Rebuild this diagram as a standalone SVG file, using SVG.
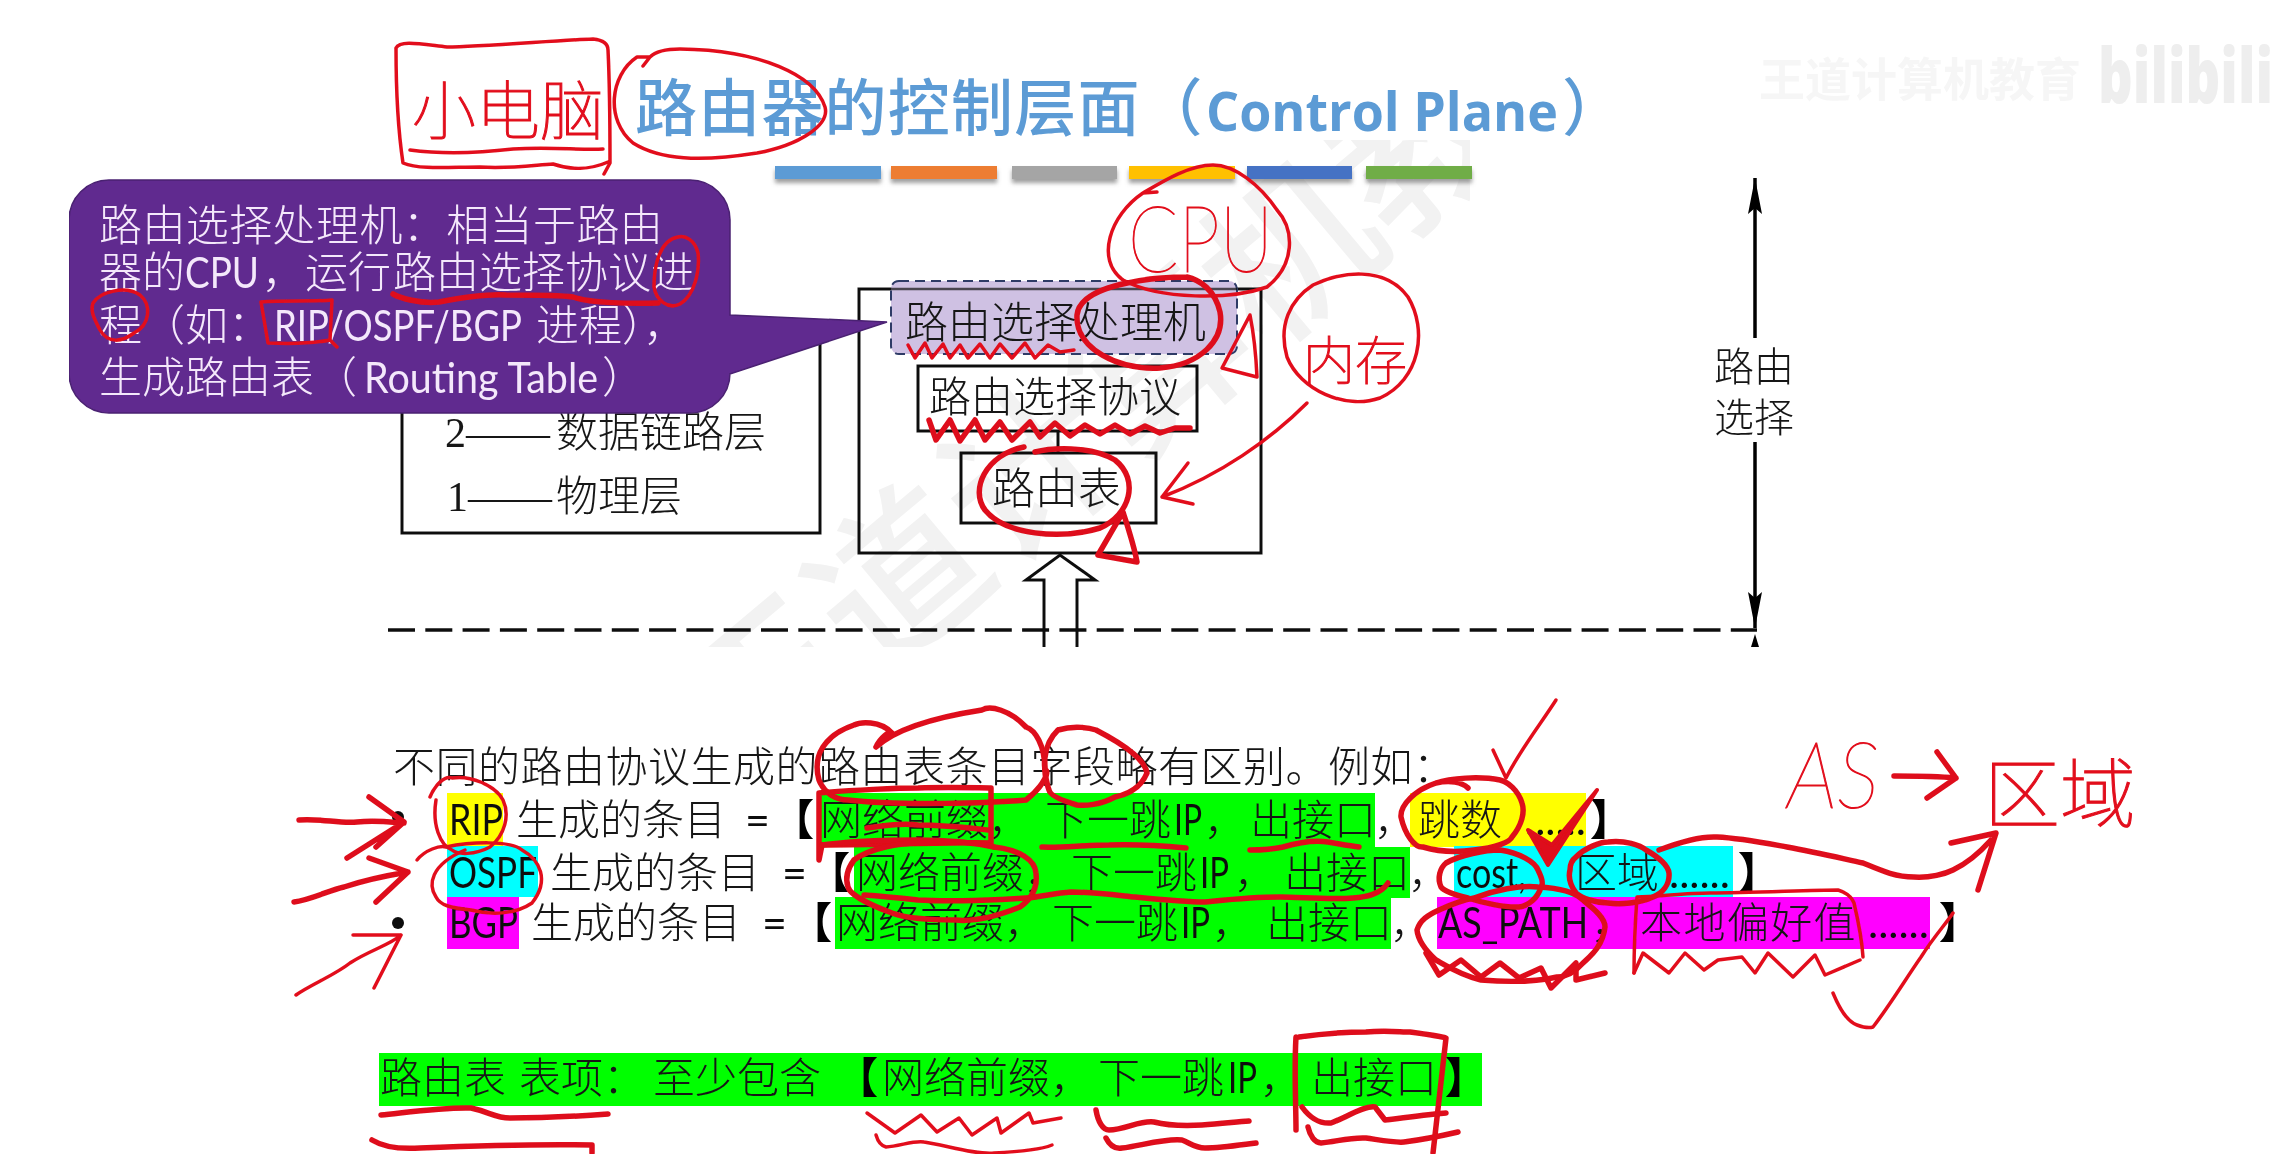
<svg xmlns="http://www.w3.org/2000/svg" width="2289" height="1158" viewBox="0 0 2289 1158">
<defs>
<style>
text{font-family:"Lato","Noto Sans CJK SC",sans-serif;white-space:pre}
.cn{font-family:"Noto Sans CJK SC",sans-serif;font-weight:300;font-size:42px;fill:#161616}
.la{font-family:"Lato","Noto Sans CJK SC",sans-serif;font-weight:400;font-size:43px;fill:#111}
.br{font-family:"Noto Sans CJK SC",sans-serif;font-weight:900;font-size:42px;fill:#000}
.co{font-family:"Noto Sans CJK SC",sans-serif;font-weight:300;font-size:43px;fill:#f4e8fb}
.cl{font-family:"Lato",sans-serif;font-weight:400;font-size:43px;fill:#f4e8fb}
.box{fill:none;stroke:#111;stroke-width:3}
.ink{fill:none;stroke:#e2101c;stroke-width:3.5;stroke-linecap:round;stroke-linejoin:round}
.ink2{fill:none;stroke:#de0f1a;stroke-width:5.5;stroke-linecap:round;stroke-linejoin:round}
.hw{font-family:"Noto Sans CJK SC",sans-serif;font-weight:100;fill:#e2101c;stroke:#e2101c;stroke-width:1}
.ln{fill:none;stroke:#111;stroke-width:3}
.bar{filter:url(#sh)}
</style>
<filter id="soft" x="0" y="0" width="100%" height="100%"><feGaussianBlur stdDeviation="0.6"/></filter>
<filter id="sh" x="-5%" y="-40%" width="110%" height="220%"><feDropShadow dx="0" dy="4" stdDeviation="2" flood-color="#777" flood-opacity=".7"/></filter>
<clipPath id="wm"><rect x="0" y="140" width="1470" height="507"/></clipPath>
<marker id="ah" viewBox="0 0 36 14" refX="36" refY="7" markerWidth="36" markerHeight="14" markerUnits="userSpaceOnUse" orient="auto"><path d="M36 7L0 0L6 7L0 14Z" fill="#000"/></marker>
</defs>
<rect width="2289" height="1158" fill="#fff"/>
<g filter="url(#soft)">
<g id="watermarks">
<g clip-path="url(#wm)"><text transform="translate(743 791) rotate(-40)" font-size="170" fill="#f2f2f2" style="font-family:'Noto Sans CJK SC',sans-serif;font-weight:500">王道计算机教育</text></g>
<text x="1759" y="96" font-size="46" fill="#f6f6f6" style="font-family:'Noto Sans CJK SC',sans-serif;font-weight:700">王道计算机教育</text>
<text x="2098" y="103" font-size="76" fill="#eeeeee" textLength="175" lengthAdjust="spacingAndGlyphs" style="font-family:'Open Sans',sans-serif;font-weight:800">bilibili</text>
</g>
<g id="title">
<text y="131" fill="#5b9bd5" font-size="62" style="font-family:'Noto Sans CJK SC',sans-serif;font-weight:500"><tspan x="635" letter-spacing="1.2">路由器的控制层面（</tspan><tspan x="1562">）</tspan></text>
<text x="1206" y="131" fill="#5b9bd5" font-size="53" font-weight="700" textLength="352" lengthAdjust="spacingAndGlyphs" style="font-family:'Open Sans',sans-serif">Control Plane</text>
<rect class="bar" x="775" y="166" width="106" height="13" fill="#5b9bd5"/>
<rect class="bar" x="891" y="166" width="106" height="13" fill="#ed7d31"/>
<rect class="bar" x="1012" y="166" width="105" height="13" fill="#a5a5a5"/>
<rect class="bar" x="1129" y="166" width="106" height="13" fill="#ffc000"/>
<rect class="bar" x="1247" y="166" width="105" height="13" fill="#4472c4"/>
<rect class="bar" x="1366" y="166" width="106" height="13" fill="#70ad47"/>
</g>
<g id="layer-box">
<rect class="box" x="402" y="340" width="418" height="193"/>
<text class="cn" y="447"><tspan x="445" style="font-family:'Liberation Serif',serif">2——</tspan><tspan x="556">数据链路层</tspan></text>
<text class="cn" y="511"><tspan x="447" style="font-family:'Liberation Serif',serif">1——</tspan><tspan x="556">物理层</tspan></text>
</g>
<g id="router-box">
<rect class="box" x="859" y="289" width="402" height="264"/>
</g>
<g id="processor">
<rect x="891" y="281" width="346" height="73" rx="8" fill="#cfc1e3" stroke="#2d3a66" stroke-width="2" stroke-dasharray="10 6"/>
<path d="M891 289H1237" stroke="#111" stroke-width="2.5" opacity=".7"/>
<text class="cn" x="905" y="338" style="font-size:43px">路由选择处理机</text>
</g>
<g id="protocol">
<rect class="box" x="918" y="366" width="279" height="65"/>
<text class="cn" x="929" y="412">路由选择协议</text>
</g>
<g id="route-table">
<rect class="box" x="961" y="453" width="195" height="70"/>
<text class="cn" x="992" y="504" style="font-size:43px">路由表</text>
</g>
<g id="connectors">
<path class="ln" d="M1058 431V453"/>
<path class="ln" d="M1044 647V580H1026L1060 555L1095 580H1077V647"/>
<path d="M388 630H1757" fill="none" stroke="#111" stroke-width="3.5" stroke-dasharray="27 10.3"/>
<path d="M1755 338V178" fill="none" stroke="#000" stroke-width="3.5" marker-end="url(#ah)"/>
<path d="M1755 442V628" fill="none" stroke="#000" stroke-width="3.5" marker-end="url(#ah)"/>
<path d="M1755 634L1759 647H1751Z" fill="#000"/>
</g>
<g id="side-label">
<text class="cn" x="1714" y="381" style="font-size:40px">路由</text>
<text class="cn" x="1714" y="432" style="font-size:40px">选择</text>
</g>
<g id="callout">
<path d="M109 180H690A40 40 0 0 1 730 220V315L887 322L730 374V373A40 40 0 0 1 690 413H109A40 40 0 0 1 69 373V220A40 40 0 0 1 109 180Z" fill="#612b8f" stroke="#4a2072" stroke-width="1.5"/>
<text class="co" x="99" y="241" letter-spacing="0.4">路由选择处理机：相当于路由</text>
<text class="co" y="288"><tspan x="99">器的</tspan><tspan x="262">，</tspan><tspan x="305">运行</tspan><tspan x="393">路由选择协议进</tspan></text>
<text class="cl" x="185" y="288" textLength="74" lengthAdjust="spacingAndGlyphs">CPU</text>
<text class="co" y="341"><tspan x="99">程（如：</tspan><tspan x="536">进程），</tspan></text>
<text class="cl" x="274" y="341" textLength="248" lengthAdjust="spacingAndGlyphs">RIP/OSPF/BGP</text>
<text class="co" y="393"><tspan x="99">生成路由表（</tspan><tspan x="602">）</tspan></text>
<text class="cl" x="364" y="393" textLength="234" lengthAdjust="spacingAndGlyphs">Routing Table</text>
</g>
<g id="highlights">
<rect x="447" y="793" width="56" height="54" fill="#ffff00"/>
<rect x="819" y="793" width="556" height="54" fill="#00ff00"/>
<rect x="1410" y="793" width="176" height="54" fill="#ffff00"/>
<rect x="447" y="846" width="91" height="51" fill="#00ffff"/>
<rect x="854" y="847" width="556" height="51" fill="#00ff00"/>
<rect x="1454" y="846" width="279" height="51" fill="#00ffff"/>
<rect x="447" y="897" width="72" height="52" fill="#ff00ff"/>
<rect x="835" y="897" width="556" height="52" fill="#00ff00"/>
<rect x="1437" y="897" width="493" height="52" fill="#ff00ff"/>
<rect x="379" y="1053" width="1103" height="53" fill="#00ff00"/>
</g>
<g id="body-text">
<text class="cn" x="393" y="782" letter-spacing="0.5">不同的路由协议生成的路由表条目字段略有区别。例如：</text>
<circle cx="398" cy="817" r="6" fill="#111"/>
<circle cx="398" cy="923" r="6" fill="#111"/>
<text y="835"><tspan class="cn" x="516">生成的条目</tspan><tspan class="la" x="745">=</tspan><tspan class="br" x="772">【</tspan><tspan class="cn" x="820">网络前缀，</tspan><tspan class="cn" x="1045">下一跳</tspan><tspan class="cn" x="1204">，</tspan><tspan class="cn" x="1250">出接口</tspan><tspan class="cn" x="1374">，</tspan><tspan class="cn" x="1418">跳数</tspan><tspan class="la" x="1525">......</tspan><tspan class="br" x="1590">】</tspan></text>
<text class="la" x="449" y="835" textLength="54" lengthAdjust="spacingAndGlyphs">RIP</text>
<text class="la" x="1174" y="835" textLength="28" lengthAdjust="spacingAndGlyphs">IP</text>
<text y="888"><tspan class="cn" x="550">生成的条目</tspan><tspan class="la" x="782">=</tspan><tspan class="br" x="808">【</tspan><tspan class="cn" x="856">网络前缀，</tspan><tspan class="cn" x="1071">下一跳</tspan><tspan class="cn" x="1234">，</tspan><tspan class="cn" x="1284">出接口</tspan><tspan class="cn" x="1408">，</tspan><tspan class="cn" x="1575">区域</tspan><tspan class="la" x="1669">......</tspan><tspan class="br" x="1738">】</tspan></text>
<text class="la" x="449" y="888" textLength="88" lengthAdjust="spacingAndGlyphs">OSPF</text>
<text class="la" x="1200" y="888" textLength="29" lengthAdjust="spacingAndGlyphs">IP</text>
<text class="la" x="1456" y="888" textLength="70" lengthAdjust="spacingAndGlyphs">cost,</text>
<text y="938"><tspan class="cn" x="531">生成的条目</tspan><tspan class="la" x="762">=</tspan><tspan class="br" x="790">【</tspan><tspan class="cn" x="836">网络前缀，</tspan><tspan class="cn" x="1052">下一跳</tspan><tspan class="cn" x="1212">，</tspan><tspan class="cn" x="1266">出接口</tspan><tspan class="cn" x="1390">，</tspan><tspan class="cn" x="1591">，</tspan><tspan class="cn" x="1640" letter-spacing="1.4">本地偏好值</tspan><tspan class="la" x="1868">......</tspan><tspan class="br" x="1939">】</tspan></text>
<text class="la" x="449" y="938" textLength="69" lengthAdjust="spacingAndGlyphs">BGP</text>
<text class="la" x="1181" y="938" textLength="29" lengthAdjust="spacingAndGlyphs">IP</text>
<text class="la" x="1438" y="938" textLength="150" lengthAdjust="spacingAndGlyphs">AS_PATH</text>
<text y="1093"><tspan class="cn" x="380">路由表</tspan><tspan class="cn" x="519">表项：</tspan><tspan class="cn" x="653">至少包含</tspan><tspan class="br" x="836">【</tspan><tspan class="cn" x="882">网络前缀，</tspan><tspan class="cn" x="1098">下一跳</tspan><tspan class="cn" x="1260">，</tspan><tspan class="cn" x="1311">出接口</tspan><tspan class="br" x="1445">】</tspan></text>
<text class="la" x="1228" y="1093" textLength="29" lengthAdjust="spacingAndGlyphs">IP</text>
</g>
<g id="annotations">
<path class="ink" d="M396 48C400 40 420 44 447 47C480 47 560 40 593 39C603 40 608 44 608 50C610 90 610 130 610 163L604 174M396 48C396 90 398 130 403 163C420 170 450 167 480 167C510 169 535 165 553 164C570 170 590 170 608 162"/>
<path class="ink" d="M410 150C440 154 470 154 513 149C550 147 580 150 603 149"/>
<text class="hw" x="412" y="134" font-size="64">小电脑</text>
<path class="ink" d="M643 66L650 57L637 57C610 75 605 120 633 143C660 160 700 162 757 153C800 145 830 125 825 107C815 75 760 50 680 49C665 49 655 52 650 57"/>
<path class="ink2" d="M393 294C400 298 420 304 439 302C460 298 490 294 506 295C530 295 560 295 573 297C590 303 630 304 658 303"/>
<path class="ink" d="M678 237C660 240 654 265 654 287C656 300 668 310 680 304C695 295 700 270 698 253C695 240 685 235 678 237"/>
<path class="ink" d="M93 303C100 292 125 285 140 295C152 305 150 325 134 333C122 342 108 344 100 330C95 320 90 312 93 303"/>
<path class="ink" d="M261 302C285 300 310 302 332 300L330 340L337 347M330 340C310 344 290 344 268 343L261 302"/>
<path class="ink" d="M1157 192L1143 193C1110 215 1095 260 1123 280C1160 300 1230 300 1267 287C1295 265 1295 230 1277 210C1260 185 1235 165 1213 165C1190 165 1165 180 1143 193"/>
<text class="hw" style="font-family:'Lato',sans-serif" x="1128" y="272" font-size="92" textLength="145" lengthAdjust="spacingAndGlyphs">CPU</text>
<path class="ink2" d="M1187 277C1150 277 1080 285 1077 315C1075 350 1120 370 1160 368C1200 365 1225 340 1220 312C1215 290 1200 280 1187 277"/>
<path class="ink" d="M1250 315L1222 368L1257 377C1256 355 1254 335 1250 315Z"/>
<path class="ink" d="M1313 285C1340 272 1385 265 1408 297C1428 330 1420 380 1380 398C1345 410 1300 390 1287 357C1278 325 1290 300 1313 285"/>
<text class="hw" x="1303" y="380" font-size="52">内存</text>
<path class="ink" d="M1307 403C1270 440 1220 475 1162 497M1188 463L1162 497L1193 504"/>
<path class="ink2" d="M1024 447C985 455 970 490 985 510C1005 535 1060 540 1100 528C1130 515 1140 480 1115 460C1090 445 1050 448 1035 452"/>
<path class="ink2" d="M1123 512L1098 555L1137 562C1134 545 1128 528 1123 512Z"/>
<path class="ink" d="M908 345L915 358L925 343L932 358L943 344L950 358L960 345L968 358L980 344L990 358L1000 344L1012 358L1025 343L1035 358L1048 345L1060 352L1074 350"/>
<path class="ink2" d="M929 420L936 440L950 420L960 441L975 420L985 440L1000 422L1012 440L1030 422L1040 437L1055 423L1070 436L1085 425L1100 434L1115 425L1130 434L1145 426L1160 433L1175 428L1190 428"/>
<path class="ink2" d="M876 747C880 738 890 730 892 733C880 720 860 722 854 725C825 735 812 755 819 780C825 795 838 800 848 800C900 806 990 803 1026 800C1045 785 1050 770 1045 770C1045 745 1035 730 1026 727C1010 710 990 705 982 710C950 715 900 725 876 747"/>
<path class="ink2" d="M1058 730C1075 725 1090 728 1096 730C1125 745 1145 760 1147 773C1140 790 1125 795 1115 797C1100 805 1085 806 1077 805C1060 800 1050 795 1049 790C1042 770 1042 745 1058 730"/>
<path class="ink2" d="M819 793C850 790 900 788 918 788C950 787 980 788 991 788V843C950 842 880 845 822 845L819 860V793"/>
<path class="ink2" d="M867 828C885 825 905 823 918 825C945 825 970 828 988 830M822 845C860 840 890 840 918 840C945 840 975 843 994 847"/>
<path class="ink2" d="M1042 847C1060 848 1085 845 1109 845C1135 844 1165 846 1186 848"/>
<path class="ink2" d="M1250 850C1262 850 1270 850 1283 847C1300 842 1315 840 1328 842C1340 844 1350 846 1359 847"/>
<path class="ink" d="M430 797C435 785 445 775 452 778C470 775 495 785 503 800C510 815 505 835 490 847C475 855 458 855 452 850C440 845 432 825 436 800"/>
<path class="ink" d="M417 860C425 850 440 845 446 847C470 842 510 840 522 850C540 860 550 880 532 903C515 915 490 915 471 910C450 908 440 905 436 897C428 885 430 865 465 850"/>
<path class="ink2" d="M299 820C320 818 340 824 357 822C375 820 390 822 404 823M369 797L404 822L347 858M404 822L376 847"/>
<path class="ink2" d="M294 902C310 900 330 890 344 887C365 880 390 875 408 872M369 858L408 872L376 902"/>
<path class="ink" d="M296 995C310 985 335 975 350 963C370 950 390 945 401 935M353 935L401 935L374 988"/>
<path class="ink2" d="M854 860C870 848 900 843 918 843C950 840 985 843 994 847C1020 850 1035 860 1036 873C1038 890 1030 900 1020 907C1000 915 975 922 956 920C930 920 905 918 892 913C870 905 850 895 848 887C845 878 848 868 854 860"/>
<path class="ink2" d="M864 895C880 896 900 898 918 900C950 902 1000 900 1026 898C1040 897 1055 893 1071 892C1090 892 1115 895 1135 897C1155 899 1185 902 1205 902C1225 900 1250 897 1280 897C1300 897 1330 900 1353 898C1365 897 1380 895 1388 883"/>
<path class="ink2" d="M381 1115C410 1112 445 1107 471 1108C490 1112 495 1118 510 1118C540 1118 580 1116 608 1114"/>
<path class="ink2" d="M372 1140C385 1148 405 1149 420 1148C470 1146 540 1144 592 1145V1153"/>
<path class="ink" d="M867 1113L895 1133L921 1115L937 1132L959 1118L972 1135L997 1118L1001 1133L1029 1113L1033 1123L1061 1118"/>
<path class="ink" d="M876 1135C878 1142 882 1146 886 1147C900 1146 915 1140 924 1142C945 1145 975 1155 994 1153C1015 1152 1040 1150 1052 1145"/>
<path class="ink2" d="M1096 1110C1098 1122 1103 1130 1109 1130C1125 1130 1140 1120 1154 1122C1170 1126 1185 1126 1202 1125C1220 1124 1235 1122 1249 1121"/>
<path class="ink2" d="M1106 1138C1110 1146 1116 1149 1122 1148C1140 1146 1165 1138 1182 1140C1190 1143 1195 1148 1205 1148C1222 1148 1240 1145 1256 1143"/>
<path class="ink" d="M1556 700C1540 725 1520 750 1506 778L1493 750"/>
<path class="ink2" d="M1468 788C1462 782 1450 780 1436 783C1415 790 1400 805 1401 817C1405 835 1415 848 1423 847C1440 852 1460 852 1474 850C1495 848 1510 842 1512 837C1522 825 1525 812 1522 803C1518 790 1508 782 1500 780C1480 776 1450 778 1436 783"/>
<path d="M1528 830L1548 865L1597 790L1552 845Z" fill="#de0f1a" stroke="#de0f1a" stroke-width="4" stroke-linejoin="round"/>
<path class="ink2" d="M1500 850C1520 853 1535 862 1538 870C1543 880 1543 885 1541 887C1538 898 1528 906 1519 907C1505 908 1480 902 1468 898C1455 895 1445 892 1441 887C1437 878 1440 868 1446 863C1460 855 1485 850 1500 850"/>
<path class="ink2" d="M1576 857C1585 848 1600 842 1608 842C1625 840 1640 845 1646 850C1660 858 1668 865 1669 873C1670 885 1662 893 1653 897C1640 903 1620 905 1608 903C1595 903 1582 898 1576 893C1570 885 1568 878 1570 870C1570 865 1572 860 1576 857"/>
<path class="ink2" d="M1659 850C1680 842 1700 836 1717 837C1740 838 1765 843 1787 847C1815 852 1840 858 1863 863C1880 870 1895 877 1914 877C1930 878 1945 874 1953 870C1970 862 1982 850 1991 840M1951 843L1996 833L1978 890"/>
<path class="ink2" d="M1474 898C1495 890 1520 885 1538 887C1560 888 1575 892 1583 900C1595 910 1605 918 1605 927C1603 945 1592 955 1583 963C1575 972 1565 977 1557 977C1535 982 1505 982 1481 980C1460 975 1445 965 1436 960C1425 950 1418 940 1417 930C1420 920 1428 915 1439 910C1450 905 1462 900 1474 898"/>
<path class="ink2" d="M1426 953L1439 975L1461 960L1481 977L1500 963L1519 978L1541 968L1551 988L1576 963L1576 980L1605 973"/>
<path class="ink" d="M1637 897C1660 896 1690 893 1710 893C1750 893 1810 890 1838 890C1848 893 1852 898 1854 903C1858 920 1862 940 1863 957M1637 897C1635 925 1634 950 1634 973"/>
<path class="ink" d="M1634 973L1643 953L1669 973L1685 953L1704 970L1718 960L1742 957L1755 973L1768 953L1793 977L1815 955L1825 975L1860 960"/>
<path class="ink" d="M1833 993C1840 1010 1848 1022 1857 1025C1865 1028 1870 1028 1873 1027C1890 1005 1905 980 1921 957C1935 935 1945 925 1953 913"/>
<path class="ink2" d="M1299 1037C1320 1034 1345 1032 1366 1032C1385 1030 1400 1032 1410 1032C1425 1034 1440 1036 1446 1038L1433 1153M1296 1037C1294 1070 1296 1105 1296 1130"/>
<path class="ink2" d="M1302 1107C1310 1118 1320 1124 1331 1123C1345 1118 1365 1105 1375 1107L1385 1120C1405 1118 1430 1114 1446 1113"/>
<path class="ink2" d="M1308 1127C1310 1136 1315 1143 1321 1143C1335 1142 1350 1137 1366 1138C1380 1140 1395 1143 1404 1142C1420 1140 1445 1135 1458 1132"/>
<text class="hw" x="1787" y="808" font-size="92" font-style="italic" style="font-family:'Lato',sans-serif" textLength="92" lengthAdjust="spacingAndGlyphs">AS</text>
<path class="ink2" d="M1894 776C1910 776 1935 776 1956 778M1937 752L1956 778L1927 798"/>
<text class="hw" x="1984" y="822" font-size="76">区域</text>
</g>
</g>
</svg>
